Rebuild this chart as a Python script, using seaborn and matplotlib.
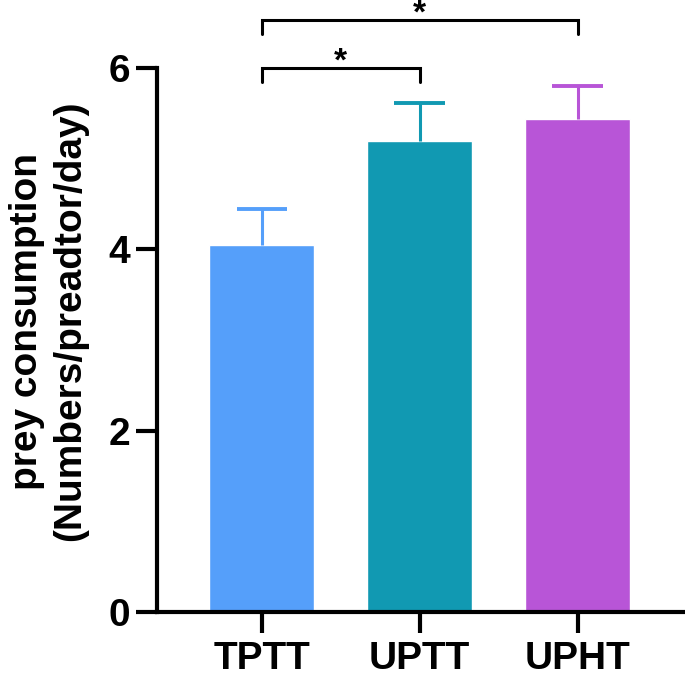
import matplotlib
matplotlib.use("Agg")
import matplotlib.pyplot as plt
import seaborn as sns
import pandas as pd

groups = ["TPTT", "UPTT", "UPHT"]
means = [4.05, 5.2, 5.44]
errors = [0.40, 0.41, 0.36]
colors = ["#559FFA", "#1199B2", "#B855D7"]
yticks = [0, 2, 4, 6]
ylabel = "prey consumption\n(Numbers/preadtor/day)"
comparisons = [(0, 1, "*"), (0, 2, "*")]

sns.set_theme(style="ticks")
plt.rcParams["font.family"] = ["Liberation Sans", "DejaVu Sans"]
plt.rcParams["font.weight"] = "bold"
for k in ["text.color", "axes.labelcolor", "xtick.color", "ytick.color"]:
    plt.rcParams[k] = "black"

df = pd.DataFrame({"group": groups, "mean": means})

fig = plt.figure(figsize=(6.85, 6.81), dpi=100)
ax = fig.add_axes([0.229, 0.101, 0.771, 0.799])

sns.barplot(data=df, x="group", y="mean", hue="group", palette=colors,
            order=groups, width=0.665, errorbar=None, legend=False, ax=ax,
            saturation=1)

for i, (m, e, c) in enumerate(zip(means, errors, colors)):
    ax.vlines(i, m, m + e, color=c, lw=2.2, zorder=1)
    ax.hlines(m + e, i - 0.16, i + 0.16, color=c, lw=2.8, zorder=1)

ax.set_ylim(0, 6)
ax.set_xlim(-0.665, 2.68)
ax.set_yticks(yticks)
ax.set_yticklabels([str(t) for t in yticks])
ax.set_xlabel("")
ax.set_ylabel(ylabel, fontsize=28, fontweight="bold", linespacing=1.25)
ax.yaxis.set_label_coords(-0.13, 0.535)
ax.tick_params(axis="both", labelsize=28, width=3, length=15, color="black")
for lab in ax.get_xticklabels() + ax.get_yticklabels():
    lab.set_fontweight("bold")
ax.tick_params(axis="y", pad=4)
ax.tick_params(axis="x", pad=6)

for s in ["top", "right"]:
    ax.spines[s].set_visible(False)
for s in ["left", "bottom"]:
    ax.spines[s].set_linewidth(3)
    ax.spines[s].set_color("black")

levels = [(6.0, 5.85, 5.97), (6.53, 6.38, 6.50)]
for (a, b, star), (yb, yt, ys) in zip(comparisons, levels):
    ax.plot([a, a, b, b], [yt, yb, yb, yt], color="black", lw=2.2,
            clip_on=False, solid_joinstyle="miter")
    ax.text((a + b) / 2, ys, star, ha="center", va="baseline", fontsize=24,
            fontweight="bold", clip_on=False)

fig.savefig("out.png", dpi=100)
